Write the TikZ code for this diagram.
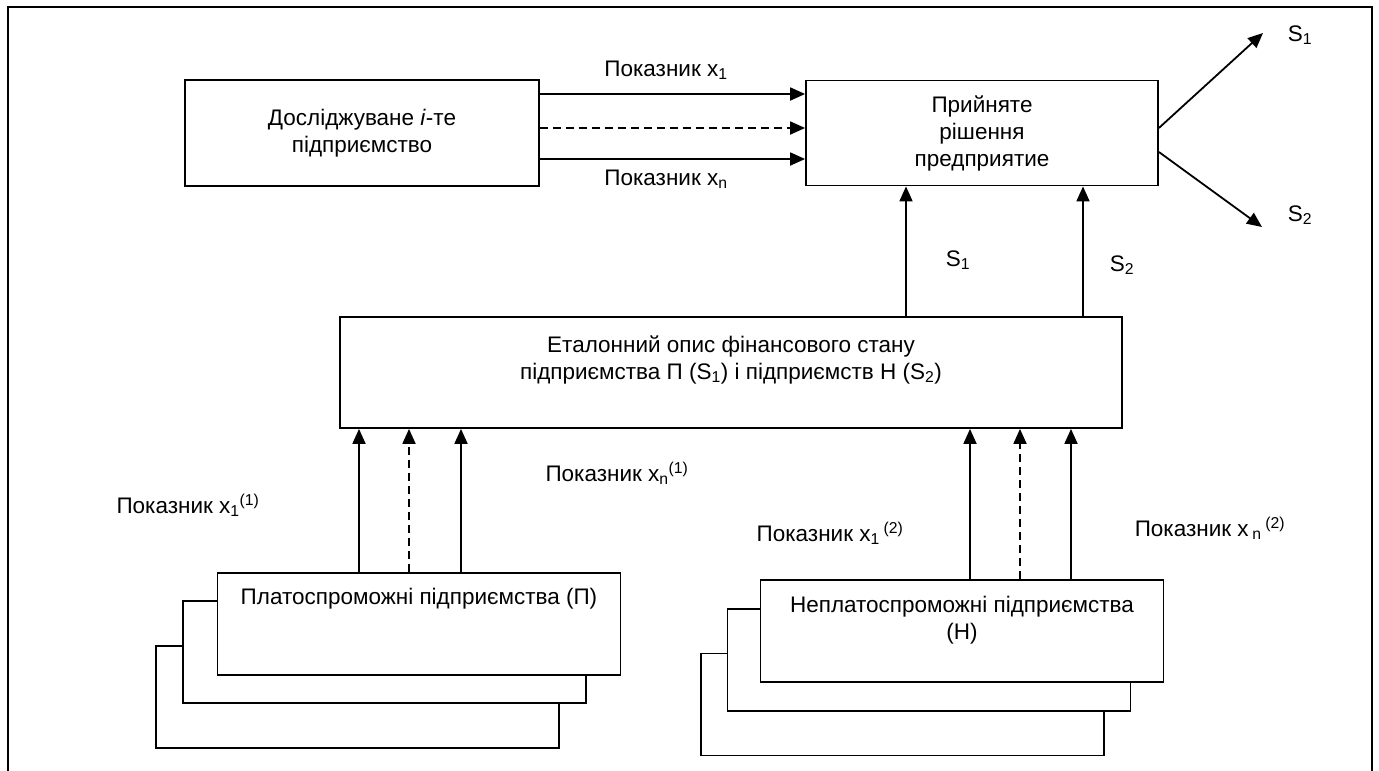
\documentclass[tikz,border=0pt]{standalone}
\usepackage{fontspec}
\setmainfont{Liberation Sans}
\usetikzlibrary{arrows.meta}

\tikzset{
  box/.style={draw, line width=1.8pt, fill=white, align=center, inner sep=0pt},
  card/.style={box, minimum width=403pt, minimum height=102pt},
  link/.style={line width=1.8pt, -{Triangle[length=15pt,width=13pt]}},
  dashlink/.style={link, dash pattern=on 8pt off 5pt},
  lbl/.style={anchor=base, inner sep=0pt},
  toptext/.style={anchor=north, align=center, inner sep=0pt},
}

\begin{document}
\begin{tikzpicture}[x=1pt, y=-1pt, font={\fontsize{22.5}{27}\selectfont}]
\useasboundingbox (0,0) rectangle (1379,771);
% outer frame (cut at the bottom)
\draw[line width=1.8pt] (8,771) -- (8,7) -- (1372,7) -- (1372,771);

% upper row
\node[box, minimum width=354pt, minimum height=106pt] (firm) at (362,133) {Досліджуване \textit{i}-те\\підприємство};
\node[box, minimum width=352pt, minimum height=105pt] (dec) at (982,133) {Прийняте\\рішення\\предприятие};

\draw[link] ([yshift=39pt]firm.east) -- ([yshift=39pt]dec.west);
\draw[dashlink] ([yshift=5pt]firm.east) -- ([yshift=5pt]dec.west);
\draw[link] ([yshift=-26pt]firm.east) -- ([yshift=-26pt]dec.west);
\node[lbl] (x1) at (666,76) {Показник x\textsubscript{1}};
\node[lbl] (xn) at (666,185) {Показник x\textsubscript{n}};

% decisions
\coordinate (out1) at (1263,33);
\coordinate (out2) at (1262,227);
\draw[link] ([yshift=5pt]dec.east) -- (out1);
\draw[link] ([yshift=-19pt]dec.east) -- (out2);
\node[lbl] (o1) at (1300,41) {S\textsubscript{1}};
\node[lbl] (o2) at (1300,221) {S\textsubscript{2}};

% reference description
\node[box, minimum width=782pt, minimum height=111pt] (std) at (731,372.5) {};
\node[toptext] (stdtext) at ([yshift=-19pt]std.north) {Еталонний опис фінансового стану\\підприємства П (S\textsubscript{1}) і підприємств Н (S\textsubscript{2})};

\coordinate (c1) at (906,0);
\coordinate (c2) at (1083,0);
\draw[link] (c1 |- std.north) -- (c1 |- dec.south);
\draw[link] (c2 |- std.north) -- (c2 |- dec.south);
\node[lbl] (s1) at (958,266) {S\textsubscript{1}};
\node[lbl] (s2) at (1122,271) {S\textsubscript{2}};

% solvent firms
\node[card] (solv3) at (357.5,697) {};
\node[card] (solv2) at (384.5,652) {};
\node[card] (solv) at (419,624) {};
\node[toptext] (solvtext) at ([yshift=-16pt]solv.north) {Платоспроможні підприємства (П)};

% insolvent firms
\node[card] (insolv3) at (902.5,704.5) {};
\node[card] (insolv2) at (929,660) {};
\node[card] (insolv) at (962,631) {};
\node[toptext] (insolvtext) at ([yshift=-17pt]insolv.north) {Неплатоспроможні підприємства\\(Н)};

\foreach \x/\s in {359/link, 409/dashlink, 461/link} {
  \coordinate (t) at (\x,0);
  \draw[\s] (t |- solv.north) -- (t |- std.south);
}
\foreach \x/\s in {970/link, 1020/dashlink, 1071/link} {
  \coordinate (t) at (\x,0);
  \draw[\s] (t |- insolv.north) -- (t |- std.south);
}

\node[lbl] (p11) at (188,513) {Показник x\textsubscript{1}\textsuperscript{(1)}};
\node[lbl] (pn1) at (617,481) {Показник x\textsubscript{n}\textsuperscript{(1)}};
\node[lbl] (p12) at (830,541) {Показник x\textsubscript{1}\,\textsuperscript{(2)}};
\node[lbl] (pn2) at (1210,536) {Показник x\,\textsubscript{n}\,\textsuperscript{(2)}};
\end{tikzpicture}
\end{document}
